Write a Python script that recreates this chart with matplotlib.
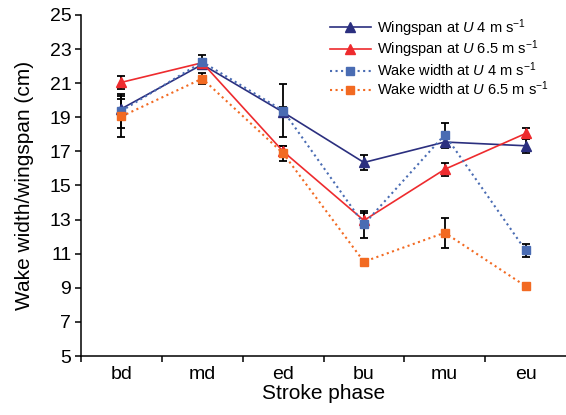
import matplotlib
matplotlib.use("Agg")
import matplotlib.pyplot as plt
import numpy as np

plt.rcParams['font.family'] = ['Liberation Sans', 'DejaVu Sans']
plt.rcParams['mathtext.fontset'] = 'custom'
plt.rcParams['mathtext.rm'] = 'Liberation Sans'
plt.rcParams['mathtext.it'] = 'Liberation Sans:italic'
plt.rcParams['mathtext.bf'] = 'Liberation Sans:bold'

phases = ['bd', 'md', 'ed', 'bu', 'mu', 'eu']

wing_u4 = [19.5, 22.1, 19.3, 16.35, 17.55, 17.33]
wing_u4_err = [0.55, 0.25, 0.3, 0.45, 0.35, 0.4]
wing_u65 = [21.05, 22.2, 17.0, 12.95, 15.95, 18.05]
wing_u65_err = [0.37, 0.2, 0.3, 0.45, 0.37, 0.3]
wake_u4 = [19.37, 22.25, 19.39, 12.72, 17.98, 11.2]
wake_u4_err = [1.0, 0.42, 1.55, 0.8, 0.7, 0.37]
wake_u65 = [19.05, 21.27, 16.89, 10.53, 12.23, 9.1]
wake_u65_err = [1.2, 0.3, 0.45, 0.1, 0.87, 0.15]

labels = [r'Wingspan at $U$ 4 m s$^{-1}$',
          r'Wingspan at $U$ 6.5 m s$^{-1}$',
          r'Wake width at $U$ 4 m s$^{-1}$',
          r'Wake width at $U$ 6.5 m s$^{-1}$']

c_navy = '#2b2f7f'
c_red = '#ee2b2e'
c_blue = '#4a6cb3'
c_orange = '#f26a22'

fig = plt.figure(figsize=(5.66, 4.15), dpi=100)
ax = fig.add_axes([81/566, 1-356/415, 1-81/566, (356-15)/415])

x = np.arange(len(phases)) + 0.5

series = [
    (wing_u4, wing_u4_err, c_navy, '-', '^', 6.5, labels[0]),
    (wing_u65, wing_u65_err, c_red, '-', '^', 6.5, labels[1]),
    (wake_u4, wake_u4_err, c_blue, ':', 's', 5.5, labels[2]),
    (wake_u65, wake_u65_err, c_orange, ':', 's', 5.5, labels[3]),
]

for vals, errs, col, ls, mk, ms, lab in series:
    ax.errorbar(x, vals, yerr=errs, fmt='none', ecolor='black', elinewidth=1.3,
                capsize=3, capthick=1.3, zorder=2)
for vals, errs, col, ls, mk, ms, lab in series:
    lw = 1.2 if ls == '-' else 1.5
    ax.plot(x, vals, color=col, linestyle=ls, linewidth=lw, marker=mk,
            markersize=ms, markeredgecolor=col, label=lab, zorder=3)

ax.set_xlim(0, 6)
ax.set_ylim(5, 25)
ax.set_yticks(np.arange(5, 26, 2))
ax.set_xticks(np.arange(0, 6))
ax.set_xticklabels([])
ax.set_xticks(x, minor=True)
ax.set_xticklabels(phases, minor=True)
ax.tick_params(axis='x', which='minor', length=0, pad=7, labelsize=14)
ax.tick_params(axis='x', which='major', direction='out', length=4, width=1.1)
ax.tick_params(axis='y', direction='out', length=4, width=1.1, labelsize=14, pad=3)

for s in ['top', 'right']:
    ax.spines[s].set_visible(False)
for s in ['left', 'bottom']:
    ax.spines[s].set_linewidth(1.1)

ax.set_xlabel('Stroke phase', fontsize=15, labelpad=1)
ax.set_ylabel('Wake width/wingspan (cm)', fontsize=15, labelpad=11)

leg = ax.legend(loc='upper left', bbox_to_anchor=(330/566, 1-17/415),
                bbox_transform=fig.transFigure, frameon=False, fontsize=10.5,
                handlelength=2.8, handletextpad=0.4, labelspacing=0.02,
                borderpad=0, borderaxespad=0)

fig.savefig('out.png', dpi=100)
